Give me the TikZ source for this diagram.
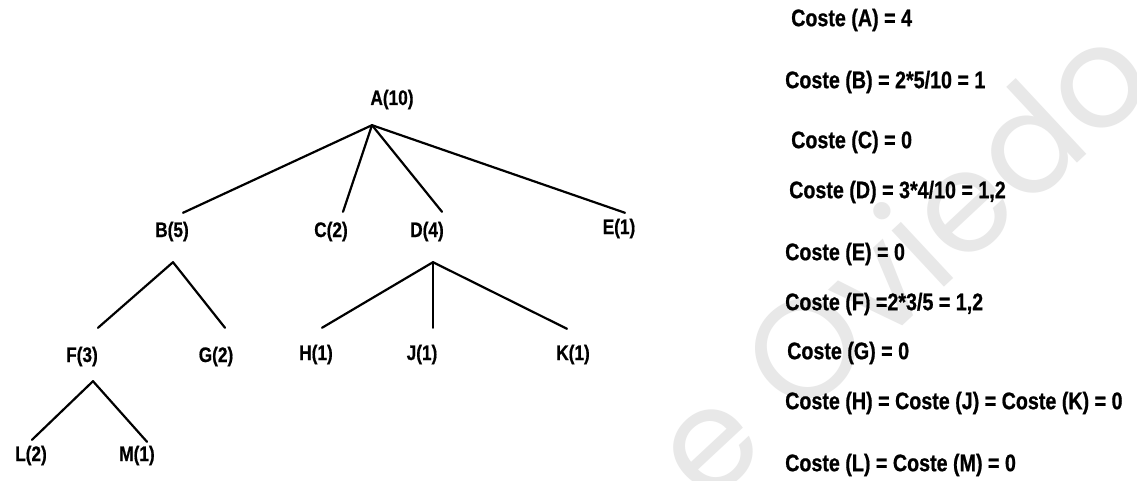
\documentclass[tikz,border=0pt]{standalone}
\usepackage{fontspec}
\newfontfamily\labfont{Liberation Sans}[FakeStretch=0.82, BoldFeatures={FakeBold=0.7}]
\newfontfamily\wmfont{Poppins}

\tikzset{
 tnode/.style={font=\labfont\bfseries\fontsize{21}{21}\selectfont, inner sep=0pt, text height=15pt, text depth=5pt},
 cnode/.style={font=\labfont\bfseries\fontsize{24}{24}\selectfont, inner sep=0pt, anchor=west},
 branch/.style={line width=2.2pt, line cap=round},
}

\begin{document}
\begin{tikzpicture}[x=1pt,y=-1pt]

\fill[white] (0,0) rectangle (1137,481);
\useasboundingbox (0,0) rectangle (1137,481);

% background mark
\node[rotate=43, text=black!9, font=\wmfont\fontsize{140}{140}\selectfont] (mark) at (898,258) {e Oviedo};

% tree
\node[tnode] (A) at (392,100) {A(10)};
\node[tnode] (B) at (172,232) {B(5)};
\node[tnode] (C) at (331,232) {C(2)};
\node[tnode] (D) at (427,232) {D(4)};
\node[tnode] (E) at (619,229) {E(1)};
\node[tnode] (F) at (82,357) {F(3)};
\node[tnode] (G) at (216,357) {G(2)};
\node[tnode] (H) at (316,355) {H(1)};
\node[tnode] (J) at (422,355) {J(1)};
\node[tnode] (K) at (573,355) {K(1)};
\node[tnode] (L) at (31,456) {L(2)};
\node[tnode] (M) at (137,456) {M(1)};

% parent/offset/child/offset
\foreach \pa/\px/\py/\ch/\cx/\cy in {A/-20/15/B/11/-9, A/-20/15/C/12/-10, A/-20/15/D/15/-10, A/-20/15/E/6/-6,
  B/1/20/F/16/-19, B/1/20/G/9/-19,
  D/6/20/H/6/-17, D/6/20/J/11/-17, D/6/20/K/-6/-16,
  F/11/14/L/1/-6, F/11/14/M/10/-4}
 \draw[branch] ([shift={(\px,\py)}]\pa.south) -- ([shift={(\cx,\cy)}]\ch.north);

% costs
\node[cnode] (cA) at (791,20) {Coste (A) = 4};
\node[cnode] (cB) at (785,82) {Coste (B) = 2*5/10 = 1};
\node[cnode] (cC) at (791,142) {Coste (C) = 0};
\node[cnode] (cD) at (789,192) {Coste (D) = 3*4/10 = 1,2};
\node[cnode] (cE) at (785,254) {Coste (E) = 0};
\node[cnode] (cF) at (785,304) {Coste (F) =2*3/5 = 1,2};
\node[cnode] (cG) at (787,353) {Coste (G) = 0};
\node[cnode] (cH) at (785,403) {Coste (H) = Coste (J) = Coste (K) = 0};
\node[cnode] (cL) at (785,465) {Coste (L) = Coste (M) = 0};

\end{tikzpicture}
\end{document}
